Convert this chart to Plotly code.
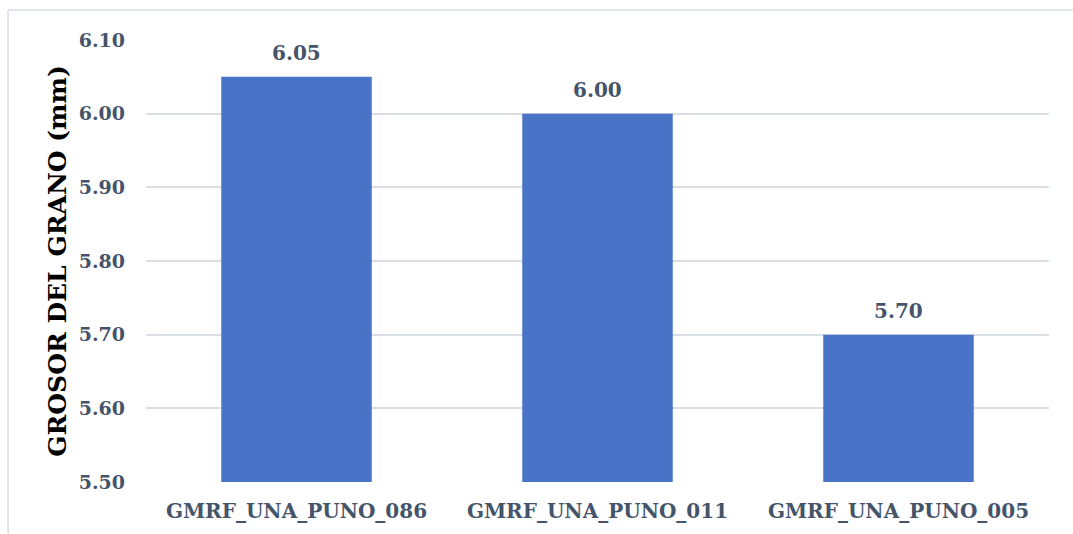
import plotly.graph_objects as go

categories = ["GMRF_UNA_PUNO_086", "GMRF_UNA_PUNO_011", "GMRF_UNA_PUNO_005"]
values = [6.05, 6.00, 5.70]
tick_vals = [5.50, 5.60, 5.70, 5.80, 5.90, 6.00, 6.10]
tick_text = ["5.50", "5.60", "5.70", "5.80", "5.90", "6.00", "6.10"]
y_title = "GROSOR DEL GRANO (mm)"

FONT = "DejaVu Serif"
LABEL_COLOR = "#44546a"

fig = go.Figure()
fig.add_trace(go.Bar(
    x=categories, y=values,
    marker=dict(color="#4873c6", line=dict(width=0)),
    hoverinfo="x+y",
))

for c, v in zip(categories, values):
    fig.add_annotation(x=c, y=v, text=f"<b>{v:.2f}</b>", showarrow=False,
                       yanchor="bottom", yshift=10,
                       font=dict(family=FONT, size=20, color=LABEL_COLOR))

# outer frame (top and left edges visible)
fig.add_shape(type="line", xref="paper", yref="paper", x0=-0.1528, x1=1.03, y0=1.0679, y1=1.0679,
              line=dict(color="#d9dde4", width=1.5))
fig.add_shape(type="line", xref="paper", yref="paper", x0=-0.1528, x1=-0.1528, y0=1.0679, y1=-0.13,
              line=dict(color="#d9dde4", width=1.5))

fig.update_layout(
    width=1073, height=534,
    margin=dict(l=146, r=24, t=40, b=52),
    paper_bgcolor="white", plot_bgcolor="white",
    bargap=0.5,
    showlegend=False,
    font=dict(family=FONT),
    xaxis=dict(
        showgrid=False, showline=False, zeroline=False,
        tickfont=dict(family=FONT, size=20, color=LABEL_COLOR, weight="bold"),
        ticklabelstandoff=15,
    ),
    yaxis=dict(
        range=[5.50, 6.10],
        tickvals=tick_vals, ticktext=tick_text,
        showgrid=True, gridcolor="#d9dde4", gridwidth=1.5,
        zeroline=False, showline=False,
        tickfont=dict(family=FONT, size=19, color=LABEL_COLOR, weight="bold"),
        ticklabelstandoff=20,
        title=dict(text=y_title, standoff=4,
                   font=dict(family=FONT, size=25, color="black", weight="bold")),
    ),
)

fig.write_html("out.html")
